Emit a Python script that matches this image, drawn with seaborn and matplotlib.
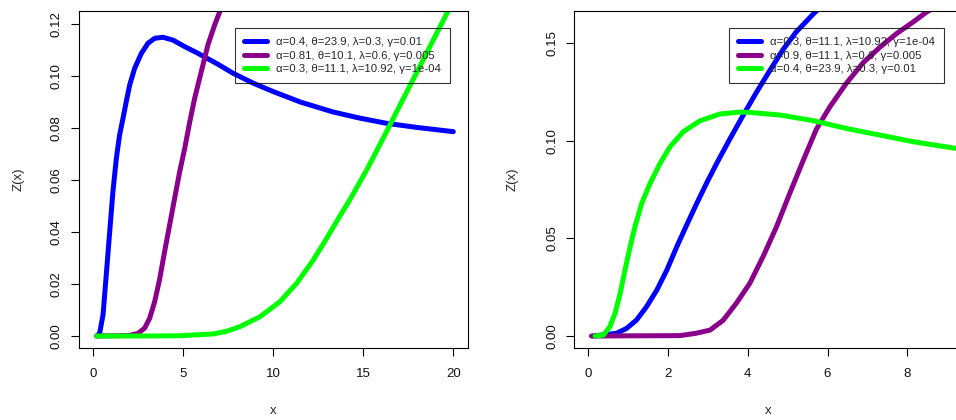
import numpy as np
import pandas as pd
import matplotlib
matplotlib.use("Agg")
import matplotlib.pyplot as plt
import seaborn as sns

# ---------------- data ----------------
# Left panel
L_blue_x = [0.19, 0.35, 0.54, 0.72, 0.91, 1.09, 1.28, 1.46, 1.65, 1.83, 2.02, 2.3, 2.67, 3.04, 3.41,
            3.87, 4.43, 5.08, 5.82, 6.93, 7.78, 8.9, 10.0, 11.5, 13.3, 14.8, 16.3, 18.0, 20.0]
L_blue_y = [0.0, 0.001, 0.0081, 0.0235, 0.040, 0.0555, 0.0683, 0.0773, 0.0837, 0.0901, 0.0965, 0.103,
            0.1087, 0.1126, 0.1145, 0.1149, 0.1138, 0.1113, 0.1087, 0.1045, 0.1010, 0.0972, 0.0940,
            0.0900, 0.0862, 0.0838, 0.0818, 0.0802, 0.0786]

L_purple_x = [0.19, 2.0, 2.48, 2.85, 3.13, 3.41, 3.69, 3.96, 4.24, 4.52, 4.8, 5.08, 5.36, 5.63, 6.0,
              6.37, 6.74, 7.04, 7.4]
L_purple_y = [0.0, 0.0002, 0.001, 0.003, 0.0068, 0.0132, 0.022, 0.0324, 0.0427, 0.053, 0.0632, 0.0722,
              0.0824, 0.0914, 0.1017, 0.112, 0.1196, 0.125, 0.131]

L_green_x = [0.19, 3.0, 4.82, 6.67, 7.4, 8.15, 9.26, 10.37, 11.3, 12.22, 12.96, 13.6, 14.26, 15.2,
             16.1, 17.04, 18.0, 18.9, 19.6, 20.0]
L_green_y = [0.0, 0.0, 0.0001, 0.0008, 0.0018, 0.0036, 0.0074, 0.0132, 0.0203, 0.0292, 0.0375, 0.0450,
             0.0525, 0.0640, 0.0760, 0.0888, 0.1018, 0.114, 0.1235, 0.129]

# Right panel
R_blue_x = [0.13, 0.71, 0.96, 1.21, 1.46, 1.72, 1.97, 2.22, 2.47, 2.72, 2.97, 3.22, 3.55, 3.88, 4.22,
            4.55, 4.89, 5.22, 5.64, 5.9]
R_blue_y = [0.0, 0.0014, 0.0039, 0.0082, 0.015, 0.0236, 0.0338, 0.0458, 0.0570, 0.0680, 0.0785,
            0.0885, 0.1010, 0.1130, 0.125, 0.136, 0.147, 0.156, 0.165, 0.170]

R_purple_x = [0.08, 2.3, 2.7, 3.05, 3.38, 3.72, 4.05, 4.39, 4.72, 5.05, 5.39, 5.72, 6.06, 6.47,
              6.89, 7.31, 7.73, 8.15, 8.48, 8.8]
R_purple_y = [0.0, 0.0002, 0.0014, 0.003, 0.008, 0.017, 0.027, 0.041, 0.056, 0.073, 0.090, 0.106,
              0.1175, 0.1295, 0.140, 0.148, 0.155, 0.161, 0.166, 0.170]

R_green_x = [0.17, 0.38, 0.54, 0.67, 0.8, 0.92, 1.05, 1.17, 1.34, 1.55, 1.8, 2.05, 2.38, 2.8, 3.3,
             3.8, 4.06, 4.8, 5.64, 6.47, 7.31, 8.15, 9.21]
R_green_y = [0.0, 0.0005, 0.0048, 0.0116, 0.0219, 0.0338, 0.0458, 0.0560, 0.068, 0.0783, 0.0885,
             0.097, 0.1047, 0.1103, 0.1138, 0.1148, 0.1146, 0.1133, 0.1104, 0.1064, 0.103, 0.0996,
             0.0962]

L_labels = ["α=0.4, θ=23.9, λ=0.3, γ=0.01",
            "α=0.81, θ=10.1, λ=0.6, γ=0.005",
            "α=0.3, θ=11.1, λ=10.92, γ=1e-04"]
R_labels = ["α=0.3, θ=11.1, λ=10.92, γ=1e-04",
            "α=0.9, θ=11.1, λ=0.6, γ=0.005",
            "α=0.4, θ=23.9, λ=0.3, γ=0.01"]

L_xticks = [0, 5, 10, 15, 20]
L_yticks = [0.00, 0.02, 0.04, 0.06, 0.08, 0.10, 0.12]
R_xticks = [0, 2, 4, 6, 8]
R_yticks = [0.00, 0.05, 0.10, 0.15]

colors = ["#0000FF", "#8B008B", "#00FF00"]

# ---------------- style ----------------
sns.set_style("white")
plt.rcParams["font.family"] = ["Liberation Sans", "DejaVu Sans"]
plt.rcParams["axes.edgecolor"] = "black"
plt.rcParams["axes.linewidth"] = 0.8

W, H = 956, 420
fig = plt.figure(figsize=(W / 100, H / 100), dpi=100)

def px_axes(x0, x1, ytop, ybot):
    return fig.add_axes([x0 / W, 1 - ybot / H, (x1 - x0) / W, (ybot - ytop) / H])

axL = px_axes(78.7, 467.7, 11, 348.3)
axR = px_axes(574.3, 962.3, 11, 348.3)

LW = 3.6

def draw(ax, xs, ys, labels, xticks, yticks, xlim, ylim, yfmt, leg_x):
    for x, y, c, lab in zip(xs, ys, colors, labels):
        df = pd.DataFrame({"x": x, "y": y})
        sns.lineplot(data=df, x="x", y="y", color=c, linewidth=LW, ax=ax, sort=False,
                     estimator=None, label=lab, solid_capstyle="round",
                     solid_joinstyle="round")
    ax.set_xlim(*xlim)
    ax.set_ylim(*ylim)
    ax.set_xticks(xticks)
    ax.set_xticklabels([str(t) for t in xticks])
    ax.set_yticks(yticks)
    ax.set_yticklabels([yfmt.format(t) for t in yticks])
    ax.tick_params(axis="both", direction="out", length=5.6, width=0.8, color="black",
                   labelsize=9.5, labelcolor="#111111")
    ax.tick_params(axis="x", pad=8.5, bottom=True)
    ax.tick_params(axis="y", pad=6, left=True, labelrotation=90)
    plt.setp(ax.get_yticklabels(), va="center")
    ax.set_xlabel("x", fontsize=9.5, va="center")
    ax.set_ylabel("Z(x)", fontsize=9.5, va="center")
    for s in ax.spines.values():
        s.set_visible(True)
        s.set_color("black")
        s.set_linewidth(0.8)
    leg = ax.legend(loc="upper left", bbox_to_anchor=(leg_x, (348.3 - 28.3) / 337.3),
                    borderaxespad=0, frameon=True, fancybox=False, edgecolor="black",
                    facecolor="none", framealpha=None, fontsize=8.2, handlelength=2.0,
                    handletextpad=0.75, labelspacing=0.3, borderpad=0.8)
    leg.get_frame().set_linewidth(0.8)
    for h in leg.get_lines():
        h.set_linewidth(LW)
    return ax

draw(axL, [L_blue_x, L_purple_x, L_green_x], [L_blue_y, L_purple_y, L_green_y], L_labels,
     L_xticks, L_yticks, (-0.811, 20.8), (-0.00473, 0.125), "{:.2f}", (235.3 - 78.7) / 389)
draw(axR, [R_blue_x, R_purple_x, R_green_x], [R_blue_y, R_purple_y, R_green_y], R_labels,
     R_xticks, R_yticks, (-0.351, 9.38), (-0.0063, 0.1666), "{:.2f}", (729.3 - 574.3) / 388)

axL.yaxis.set_label_coords((18.3 - 78.7) / 389, 0.5)
axL.xaxis.set_label_coords(0.5, (348.3 - 411) / 337.3)
axR.yaxis.set_label_coords((512.3 - 574.3) / 388, 0.5)
axR.xaxis.set_label_coords(0.5, (348.3 - 411) / 337.3)

fig.savefig("out.png", dpi=100)
